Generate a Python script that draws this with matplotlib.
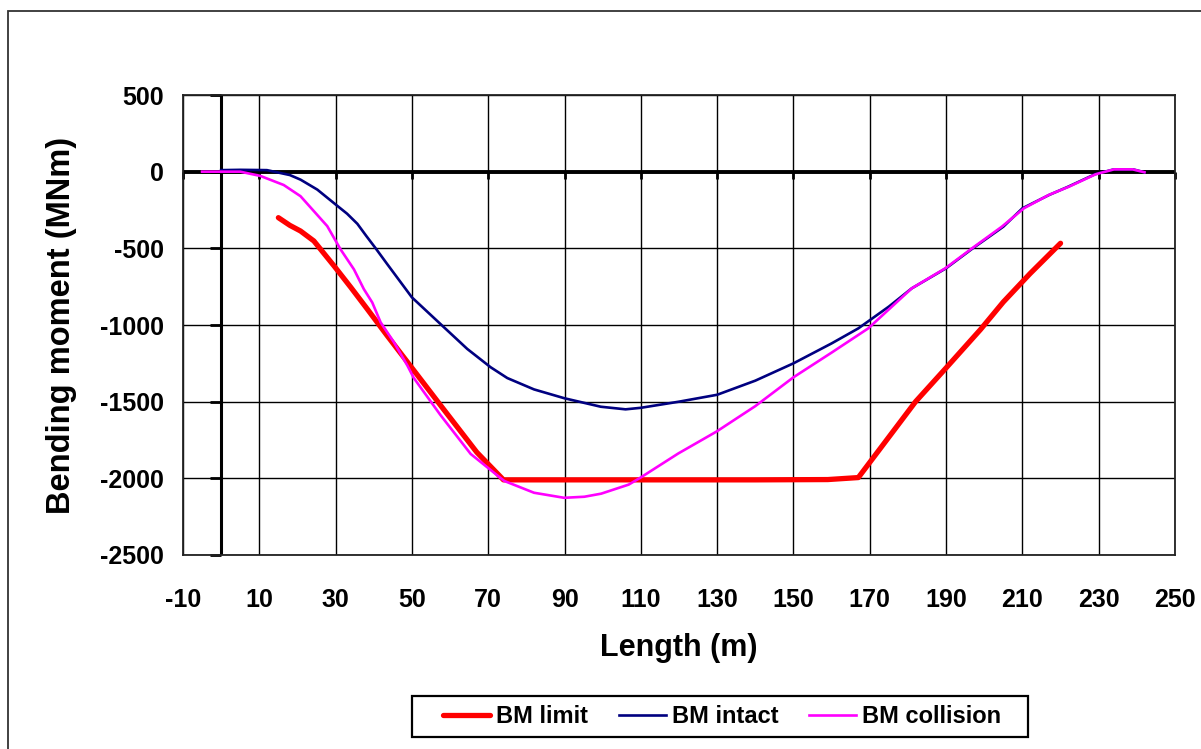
import numpy as np
import matplotlib
matplotlib.use("Agg")
import matplotlib.pyplot as plt
from matplotlib.lines import TICKLEFT, TICKDOWN
from matplotlib.patches import Rectangle

plt.rcParams['font.family'] = ['Liberation Sans', 'DejaVu Sans']
plt.rcParams['font.weight'] = 'bold'
plt.rcParams['axes.unicode_minus'] = False

# ---- data ----
limit_x = [15, 18, 20.8, 24.3, 29.6, 34, 38.3, 43.5, 50, 58, 67, 74, 80, 100, 120, 140,
           159, 167, 182, 190, 199, 205, 212, 220]
limit_y = [-300, -350, -387, -452, -615, -755, -896, -1069, -1280, -1540, -1830, -2010,
           -2010, -2010, -2010, -2010, -2008, -1995, -1500, -1280, -1030, -850, -665, -467]

intact_x = [0, 5, 12, 18, 20.8, 25.2, 30, 33, 35.7, 38, 40.5, 43.5, 50, 57.5, 64.5, 70.6,
            75, 82, 90, 99.5, 106, 110, 120, 130, 140, 150, 160, 167, 175, 181, 190, 197,
            205, 210, 217, 222, 229, 234, 239, 242]
intact_y = [10, 12, 10, -22, -52, -117, -214, -274, -340, -418, -500, -602, -820, -994,
            -1156, -1275, -1346, -1420, -1478, -1533, -1550, -1540, -1500, -1455, -1363,
            -1250, -1120, -1022, -880, -761, -630, -500, -359, -239, -152, -98, -17, 15,
            15, -4]

collision_x = [-5, 5, 10.3, 16.4, 20.8, 27.8, 31.3, 34.8, 37.4, 39.6, 41.8, 45.3, 48.8,
               50.5, 57.5, 65.4, 74.2, 82, 89.9, 95.2, 99.6, 106.8, 109.8, 119.8, 129.9,
               140, 150, 160, 169.6, 181, 189.8, 196.8, 204.6, 210.4, 216.9, 222.2, 229.2,
               234, 238.9, 242]
collision_y = [0, 0, -28, -87, -160, -355, -507, -637, -766, -853, -983, -1113, -1264,
               -1346, -1588, -1841, -2017, -2094, -2127, -2120, -2100, -2041, -1997, -1838,
               -1694, -1529, -1341, -1180, -1022, -761, -630, -500, -359, -239, -152, -98,
               -17, 15, 15, -4]

x_ticks = list(range(-10, 251, 20))
y_ticks = list(range(-2500, 501, 500))
series_names = ["BM limit", "BM intact", "BM collision"]

# ---- figure ----
fig = plt.figure(figsize=(12.01, 7.49), dpi=100)
ax = fig.add_axes([183/1201, 1-555/749, (1175-183)/1201, (555-95)/749])

ax.set_xlim(-10, 250)
ax.set_ylim(-2500, 500)
ax.set_xticks(x_ticks)
ax.set_yticks(y_ticks)
ax.grid(True, color='black', lw=1.0)
ax.set_axisbelow(True)
for s in ax.spines.values():
    s.set_linewidth(1.3)
    s.set_color('#222222')

ax.tick_params(axis='both', length=0, labelsize=18)
ax.tick_params(axis='x', pad=24)
ax.tick_params(axis='y', pad=14)
for lab in ax.get_xticklabels() + ax.get_yticklabels():
    lab.set_fontweight('bold')

# thick zero axes
ax.axhline(0, color='black', lw=2.8, zorder=2)
ax.axvline(0, color='black', lw=2.2, zorder=2)
ax.plot(np.zeros(len(y_ticks)), y_ticks, ls='none', marker=TICKLEFT, ms=8, mew=2,
        color='black', clip_on=False, zorder=2)
ax.plot(x_ticks, np.zeros(len(x_ticks)), ls='none', marker=TICKDOWN, ms=5, mew=2,
        color='black', clip_on=False, zorder=2)

l1, = ax.plot(limit_x, limit_y, color='#FF0000', lw=3.8, solid_capstyle='round',
              solid_joinstyle='round', zorder=3)
l2, = ax.plot(intact_x, intact_y, color='#000080', lw=1.9, zorder=4)
l3, = ax.plot(collision_x, collision_y, color='#FF00FF', lw=1.9, zorder=5)

ax.set_xlabel("Length (m)", fontsize=22, fontweight='bold', labelpad=15)
ax.set_ylabel("Bending moment (MNm)", fontsize=23.5, fontweight='bold', labelpad=16)

leg = fig.legend([l1, l2, l3], series_names, loc='center',
                 bbox_to_anchor=(722/1201, 1-716.5/749), ncol=3,
                 frameon=False, handlelength=2.0,
                 handletextpad=0.25, columnspacing=1.3, borderpad=0.35,
                 prop={'weight': 'bold', 'size': 17})

# legend frame
fig.patches.append(Rectangle((412/1201, 1-737/749), 616/1201, 41/749,
                             transform=fig.transFigure, fill=False, lw=1.6,
                             edgecolor='black'))

# outer chart border
fig.patches.append(Rectangle((8/1201, -0.2), 1.2, 1.2 - 11/749,
                             transform=fig.transFigure, fill=False, lw=1.3,
                             edgecolor='#333333'))

fig.savefig("out.png", dpi=100)
